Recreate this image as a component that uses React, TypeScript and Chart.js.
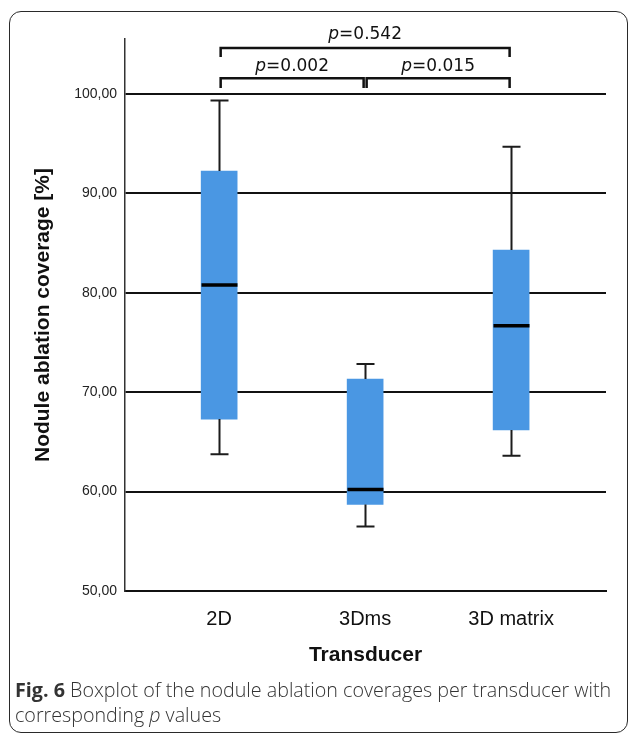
import React, { useEffect, useRef } from 'react';
import { Chart, registerables } from 'chart.js';

Chart.register(...registerables);

// ---- data ----
const categories = ['2D', '3Dms', '3D matrix'];
const whiskerLow = [63.75, 56.5, 63.6];
const q1 = [67.3, 58.7, 66.2];
const medians = [80.8, 60.2, 76.7];
const q3 = [92.25, 71.33, 84.3];
const whiskerHigh = [99.35, 72.85, 94.7];
const yTickValues = [50, 60, 70, 80, 90, 100];
const yTickLabels = ['50,00', '60,00', '70,00', '80,00', '90,00', '100,00'];
const comparisonFrom = [0, 1, 0];
const comparisonTo = [1, 2, 2];
const comparisonP = ['0.002', '0.015', '0.542'];
const comparisonLevel = [0, 0, 1];

const W = 630;
const H = 680;

const boxPartsPlugin = {
  id: 'boxParts',
  afterDatasetsDraw(chart: any) {
    const { ctx, scales } = chart;
    const x = scales.x;
    const y = scales.y;
    ctx.save();
    categories.forEach((_, i) => {
      const cx = Math.round(x.getPixelForValue(i)) + 0.5;
      const boxHalf = 18;
      const capHalf = 9;
      ctx.strokeStyle = '#1c1c1c';
      ctx.lineWidth = 2;
      ctx.beginPath();
      ctx.moveTo(cx, y.getPixelForValue(q3[i]));
      ctx.lineTo(cx, y.getPixelForValue(whiskerHigh[i]));
      ctx.moveTo(cx, y.getPixelForValue(q1[i]));
      ctx.lineTo(cx, y.getPixelForValue(whiskerLow[i]));
      const yh = y.getPixelForValue(whiskerHigh[i]);
      const yl = y.getPixelForValue(whiskerLow[i]);
      ctx.moveTo(cx - capHalf, yh);
      ctx.lineTo(cx + capHalf, yh);
      ctx.moveTo(cx - capHalf, yl);
      ctx.lineTo(cx + capHalf, yl);
      ctx.stroke();
      ctx.strokeStyle = '#000';
      ctx.lineWidth = 3.5;
      const ym = y.getPixelForValue(medians[i]);
      ctx.beginPath();
      ctx.moveTo(cx - boxHalf, ym);
      ctx.lineTo(cx + boxHalf, ym);
      ctx.stroke();
    });
    ctx.restore();
  },
};

const bracketPlugin = {
  id: 'brackets',
  afterDraw(chart: any) {
    const { ctx, scales } = chart;
    const x = scales.x;
    const y = scales.y;
    const barValue = [101.6, 104.63];
    const endValue = [100.6, 103.73];
    const textValue = [102.75, 105.94];
    ctx.save();
    comparisonP.forEach((p, k) => {
      const lv = comparisonLevel[k];
      const x0 = x.getPixelForValue(comparisonFrom[k]) + 1.5;
      const x1 = x.getPixelForValue(comparisonTo[k]) - 1.5;
      const yb = y.getPixelForValue(barValue[lv]);
      const ye = y.getPixelForValue(endValue[lv]);
      ctx.strokeStyle = '#111';
      ctx.lineWidth = 2.5;
      ctx.lineJoin = 'miter';
      ctx.beginPath();
      ctx.moveTo(x0, ye);
      ctx.lineTo(x0, yb);
      ctx.lineTo(x1, yb);
      ctx.lineTo(x1, ye);
      ctx.stroke();
      const yt = y.getPixelForValue(textValue[lv]);
      const italicFont = 'italic 17px "DejaVu Sans"';
      const normalFont = '17px "DejaVu Sans"';
      ctx.font = italicFont;
      const wp = ctx.measureText('p').width;
      ctx.font = normalFont;
      const rest = '=' + p;
      const wr = ctx.measureText(rest).width;
      const cx = (x0 + x1) / 2;
      const start = cx - (wp + wr) / 2;
      ctx.fillStyle = '#111';
      ctx.textBaseline = 'middle';
      ctx.textAlign = 'left';
      ctx.font = italicFont;
      ctx.fillText('p', start, yt);
      ctx.font = normalFont;
      ctx.fillText(rest, start + wp, yt);
    });
    ctx.restore();
  },
};

export default function App() {
  const canvasRef = useRef<HTMLCanvasElement | null>(null);

  useEffect(() => {
    const canvas = canvasRef.current;
    if (!canvas) return;
    const chart = new Chart(canvas, {
      type: 'bar',
      data: {
        datasets: [
          {
            data: categories.map((_, i) => ({ x: i, y: [q1[i], q3[i]] })) as any,
            backgroundColor: '#4A97E3',
            borderWidth: 0,
            barThickness: 36,
          },
        ],
      },
      options: {
        responsive: false,
        animation: false,
        layout: { padding: { left: 0, top: 39, right: 24, bottom: 0 } },
        plugins: {
          legend: { display: false },
          tooltip: { enabled: false },
        },
        scales: {
          x: {
            type: 'linear',
            min: -0.645,
            max: 2.65,
            offset: false,
            grid: { display: false, drawTicks: false },
            border: { display: true, color: '#111', width: 2 },
            afterBuildTicks: (scale: any) => {
              scale.ticks = categories.map((_, i) => ({ value: i }));
            },
            afterFit: (scale: any) => {
              scale.height = H - 591;
            },
            ticks: {
              autoSkip: false,
              maxRotation: 0,
              padding: 16,
              color: '#111',
              font: { family: '"Liberation Sans", Arial', size: 20 },
              callback: (_v: any, idx: number) => categories[idx],
            },
            title: {
              display: true,
              text: 'Transducer',
              color: '#111',
              font: { family: '"Liberation Sans", Arial', size: 21, weight: 'bold' },
              padding: { top: 0, bottom: 12 },
            },
          },
          y: {
            type: 'linear',
            min: 50,
            max: 105.54,
            grid: { color: '#111', lineWidth: 2, drawTicks: false },
            border: { display: true, color: '#333', width: 1.5 },
            afterBuildTicks: (scale: any) => {
              scale.ticks = yTickValues.map((v) => ({ value: v }));
            },
            afterFit: (scale: any) => {
              scale.width = 125;
            },
            ticks: {
              padding: 8,
              color: '#222',
              font: { family: '"Liberation Sans", Arial', size: 14 },
              callback: (v: any) => {
                const idx = yTickValues.indexOf(Number(v));
                return idx >= 0 ? yTickLabels[idx] : '';
              },
            },
            title: {
              display: true,
              text: 'Nodule ablation coverage [%]',
              color: '#111',
              font: { family: '"Liberation Sans", Arial', size: 21, weight: 'bold' },
              padding: { top: 31, bottom: 0 },
            },
          },
        },
      },
      plugins: [boxPartsPlugin, bracketPlugin],
    });
    return () => chart.destroy();
  }, []);

  return (
    <div style={{ position: 'absolute', left: 0, top: 0, width: W, height: 735, background: '#fff' }}>
      <div
        style={{
          position: 'absolute',
          left: 9,
          top: 11,
          width: 619,
          height: 722,
          boxSizing: 'border-box',
          border: '1.5px solid #2a2a2a',
          borderRadius: 12,
        }}
      />
      <canvas
        ref={canvasRef}
        width={W}
        height={H}
        style={{ position: 'absolute', left: 0, top: 0, width: W, height: H }}
      />
      <div
        style={{
          position: 'absolute',
          left: 15,
          top: 677,
          fontFamily: '"Open Sans", sans-serif',
          fontSize: 19.7,
          fontWeight: 300,
          lineHeight: '25px',
          color: '#333',
          whiteSpace: 'nowrap',
        }}
      >
        <b style={{ fontWeight: 700 }}>Fig. 6</b> Boxplot of the nodule ablation coverages per transducer with
        <br />
        corresponding <i>p</i> values
      </div>
    </div>
  );
}
